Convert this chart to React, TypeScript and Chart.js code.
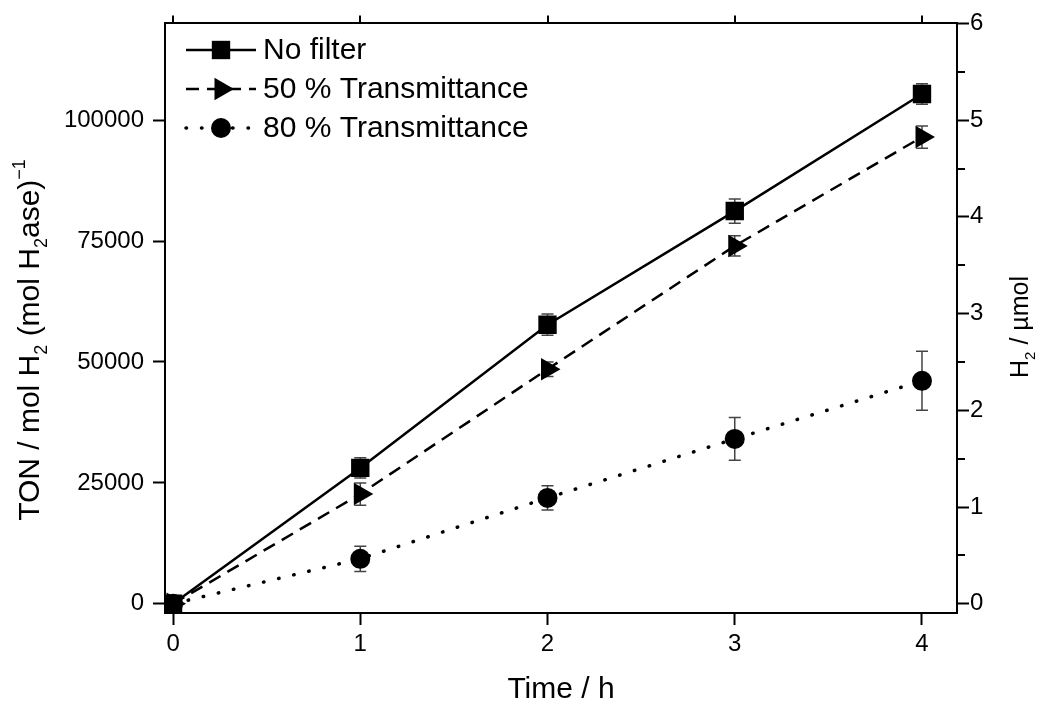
import React, { useEffect, useRef } from 'react';
import { Chart, registerables } from 'chart.js';

Chart.register(...registerables);

// ---------- data ----------
const timeH = [0, 1, 2, 3, 4];
const noFilter = [0, 28100, 57700, 81200, 105400];
const noFilterErr = [0, 2100, 2200, 2500, 2100];
const trans50 = [0, 22700, 48500, 74000, 96500];
const trans50Err = [0, 2300, 1500, 2100, 2300];
const trans80 = [0, 9300, 21900, 34100, 46100];
const trans80Err = [0, 2600, 2500, 4400, 6100];
const seriesNames = ['No filter', '50 % Transmittance', '80 % Transmittance'];

const xTicks = [0, 1, 2, 3, 4];
const tonTicks = [0, 25000, 50000, 75000, 100000];
const h2Ticks = [0, 1, 2, 3, 4, 5, 6];
const h2MinorTicks = [0.5, 1.5, 2.5, 3.5, 4.5, 5.5];

const FONT = '"Liberation Sans", Arial, Helvetica, sans-serif';
const TICK_SIZE = 24;
const LEGEND_SIZE = 30;

type Seg = { t: string; k?: 'sub' | 'sup' };

function drawRich(ctx: CanvasRenderingContext2D, segs: Seg[], cx: number, cy: number, size: number, rot: number) {
  ctx.save();
  ctx.translate(cx, cy);
  ctx.rotate(rot);
  ctx.fillStyle = '#000';
  ctx.textBaseline = 'alphabetic';
  ctx.textAlign = 'left';
  const fontFor = (k?: string) => `${k ? Math.round(size * 0.6) : size}px ${FONT}`;
  let total = 0;
  const widths = segs.map((s) => {
    ctx.font = fontFor(s.k);
    const w = ctx.measureText(s.t).width;
    total += w;
    return w;
  });
  let x = -total / 2;
  const baseY = size * 0.36;
  segs.forEach((s, i) => {
    ctx.font = fontFor(s.k);
    const dy = s.k === 'sub' ? size * 0.28 : s.k === 'sup' ? -size * 0.45 : 0;
    ctx.fillText(s.t, x, baseY + dy);
    x += widths[i];
  });
  ctx.restore();
}

function drawMarker(ctx: CanvasRenderingContext2D, style: string, x: number, y: number, r: number, rot: number) {
  ctx.save();
  ctx.fillStyle = '#000';
  ctx.beginPath();
  if (style === 'rect') {
    const s = r * Math.SQRT1_2;
    ctx.rect(x - s, y - s, 2 * s, 2 * s);
  } else if (style === 'circle') {
    ctx.arc(x, y, r, 0, Math.PI * 2);
  } else {
    let rad = (rot * Math.PI) / 180;
    ctx.moveTo(x + Math.sin(rad) * r, y - Math.cos(rad) * r);
    rad += (2 * Math.PI) / 3;
    ctx.lineTo(x + Math.sin(rad) * r, y - Math.cos(rad) * r);
    rad += (2 * Math.PI) / 3;
    ctx.lineTo(x + Math.sin(rad) * r, y - Math.cos(rad) * r);
    ctx.closePath();
  }
  ctx.fill();
  ctx.restore();
}

const errorBarPlugin = {
  id: 'errorBars',
  beforeDatasetsDraw(chart: any) {
    const ctx: CanvasRenderingContext2D = chart.ctx;
    ctx.save();
    ctx.strokeStyle = '#444';
    ctx.lineWidth = 1.5;
    chart.data.datasets.forEach((ds: any, i: number) => {
      const meta = chart.getDatasetMeta(i);
      const yScale = chart.scales[ds.yAxisID || 'y'];
      (ds.errors || []).forEach((e: number, j: number) => {
        if (!e) return;
        const v = ds.data[j].y;
        const px = meta.data[j].x;
        const yT = yScale.getPixelForValue(v + e);
        const yB = yScale.getPixelForValue(v - e);
        ctx.beginPath();
        ctx.moveTo(px, yT);
        ctx.lineTo(px, yB);
        ctx.moveTo(px - 6, yT);
        ctx.lineTo(px + 6, yT);
        ctx.moveTo(px - 6, yB);
        ctx.lineTo(px + 6, yB);
        ctx.stroke();
      });
    });
    ctx.restore();
  },
};

const decorPlugin = {
  id: 'decor',
  afterDraw(chart: any) {
    const ctx: CanvasRenderingContext2D = chart.ctx;
    const a = chart.chartArea;
    const xs = chart.scales.x;
    const y2 = chart.scales.y2;
    ctx.save();
    ctx.strokeStyle = '#000';
    ctx.lineWidth = 2;
    // top frame line
    ctx.beginPath();
    ctx.moveTo(a.left - 1, Math.round(a.top));
    ctx.lineTo(a.right + 1, Math.round(a.top));
    ctx.stroke();
    // top ticks
    ctx.beginPath();
    xTicks.forEach((v) => {
      const px = Math.round(xs.getPixelForValue(v));
      ctx.moveTo(px, a.top);
      ctx.lineTo(px, a.top - 8);
    });
    // right minor ticks
    h2MinorTicks.forEach((v) => {
      const py = Math.round(y2.getPixelForValue(v));
      ctx.moveTo(a.right, py);
      ctx.lineTo(a.right + 8, py);
    });
    ctx.stroke();

    // axis titles
    drawRich(ctx, [{ t: 'Time / h' }], (a.left + a.right) / 2, 687, 30, 0);
    drawRich(
      ctx,
      [
        { t: 'TON / mol H' },
        { t: '2', k: 'sub' },
        { t: ' (mol H' },
        { t: '2', k: 'sub' },
        { t: 'ase)' },
        { t: '\u22121', k: 'sup' },
      ],
      28,
      340,
      30,
      -Math.PI / 2
    );
    drawRich(ctx, [{ t: 'H' }, { t: '2', k: 'sub' }, { t: ' / \u00b5mol' }], 1019, 327, 25, -Math.PI / 2);

    // legend
    const rows = [50, 89, 128];
    chart.data.datasets.forEach((ds: any, i: number) => {
      const y = rows[i];
      ctx.save();
      ctx.strokeStyle = '#000';
      ctx.lineWidth = ds.borderWidth;
      ctx.lineCap = ds.borderCapStyle || 'butt';
      ctx.setLineDash(ds.borderDash || []);
      ctx.beginPath();
      ctx.moveTo(186, y);
      ctx.lineTo(256, y);
      ctx.stroke();
      ctx.restore();
      drawMarker(ctx, ds.pointStyle, 221, y, ds.pointRadius, ds.pointRotation || 0);
      ctx.fillStyle = '#000';
      ctx.font = `${LEGEND_SIZE}px ${FONT}`;
      ctx.textBaseline = 'middle';
      ctx.textAlign = 'left';
      ctx.fillText(ds.label, 263, y + 1);
    });
    ctx.restore();
  },
};

const pts = (ys: number[]) => timeH.map((x, i) => ({ x, y: ys[i] }));

export default function App() {
  const ref = useRef<HTMLCanvasElement>(null);
  useEffect(() => {
    const canvas = ref.current!;
    const axisCommon = {
      grid: { drawOnChartArea: false, drawTicks: true, tickLength: 12, tickWidth: 2, color: '#000' },
      border: { display: true, color: '#000', width: 2 },
    };
    const chart = new Chart(canvas, {
      type: 'line',
      data: {
        datasets: [
          {
            label: seriesNames[0],
            data: pts(noFilter),
            errors: noFilterErr,
            yAxisID: 'y',
            borderColor: '#000',
            backgroundColor: '#000',
            borderWidth: 2.5,
            pointStyle: 'rect',
            pointRadius: 13,
            pointBorderWidth: 0,
            pointBackgroundColor: '#000',
            tension: 0,
          } as any,
          {
            label: seriesNames[1],
            data: pts(trans50),
            errors: trans50Err,
            yAxisID: 'y',
            borderColor: '#000',
            backgroundColor: '#000',
            borderWidth: 2.5,
            borderDash: [13, 8],
            pointStyle: 'triangle',
            pointRotation: 90,
            pointRadius: 13,
            pointBorderWidth: 0,
            pointBackgroundColor: '#000',
            tension: 0,
          } as any,
          {
            label: seriesNames[2],
            data: pts(trans80),
            errors: trans80Err,
            yAxisID: 'y',
            borderColor: '#000',
            backgroundColor: '#000',
            borderWidth: 3.5,
            borderCapStyle: 'round',
            borderDash: [0.5, 15],
            pointStyle: 'circle',
            pointRadius: 10,
            pointBorderWidth: 0,
            pointBackgroundColor: '#000',
            tension: 0,
          } as any,
        ],
      },
      options: {
        animation: false,
        responsive: false,
        devicePixelRatio: 1,
        layout: { padding: { top: 23, left: 0, right: 0, bottom: 0 } },
        plugins: { legend: { display: false }, tooltip: { enabled: false } },
        scales: {
          x: {
            type: 'linear',
            position: 'bottom',
            min: -0.043,
            max: 4.187,
            ...axisCommon,
            ticks: { color: '#000', font: { size: TICK_SIZE, family: FONT }, padding: 5, callback: (v: any) => String(v) },
            afterBuildTicks: (s: any) => {
              s.ticks = xTicks.map((v) => ({ value: v }));
            },
            afterFit: (s: any) => {
              s.height = 89;
            },
          },
          y: {
            type: 'linear',
            position: 'left',
            min: -1900,
            max: 120000,
            ...axisCommon,
            ticks: { color: '#000', font: { size: TICK_SIZE, family: FONT }, padding: 9, callback: (v: any) => String(v) },
            afterBuildTicks: (s: any) => {
              s.ticks = tonTicks.map((v) => ({ value: v }));
            },
            afterFit: (s: any) => {
              s.width = 165;
            },
          },
          y2: {
            type: 'linear',
            position: 'right',
            min: -0.095,
            max: 6,
            ...axisCommon,
            ticks: { color: '#000', font: { size: TICK_SIZE, family: FONT }, padding: 1, callback: (v: any) => String(v) },
            afterBuildTicks: (s: any) => {
              s.ticks = h2Ticks.map((v) => ({ value: v }));
            },
            afterFit: (s: any) => {
              s.width = 86;
            },
          },
        },
      } as any,
      plugins: [errorBarPlugin, decorPlugin],
    });
    return () => chart.destroy();
  }, []);
  return (
    <div style={{ position: 'absolute', left: 0, top: 0, width: 1043, height: 702, background: '#fff' }}>
      <canvas ref={ref} width={1043} height={702} style={{ display: 'block', width: 1043, height: 702 }} />
    </div>
  );
}
